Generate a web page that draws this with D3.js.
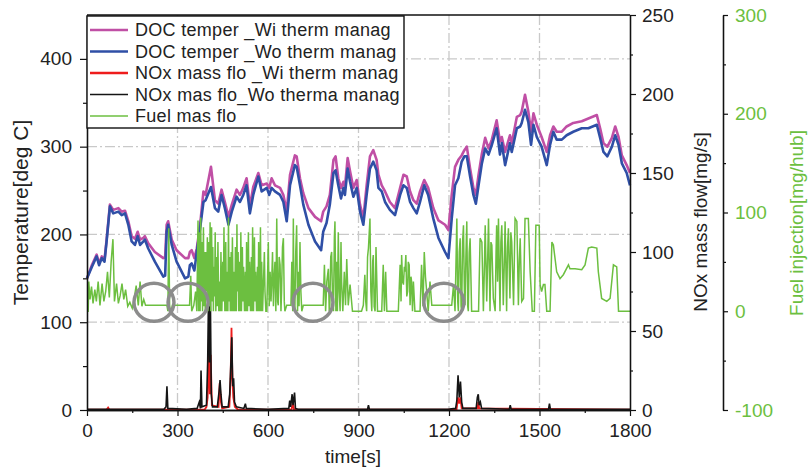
<!DOCTYPE html>
<html><head><meta charset="utf-8">
<script src="https://cdn.jsdelivr.net/npm/d3@7"></script>
<style>
body{margin:0;background:#fff}
svg{display:block}
text{font-family:"Liberation Sans",Arial,Helvetica,sans-serif}
</style>
</head><body>
<svg id="chart" width="808" height="468"></svg>
<script>
// ---------------- DATA ----------------
const seriesNames = ["DOC temper _Wi therm manag","DOC temper _Wo therm manag","NOx mass flo _Wi therm manag","NOx mas flo_Wo therma manag","Fuel mas flo"];
const timeTicks = [0,300,600,900,1200,1500,1800];
const tempTicks = [0,100,200,300,400];
const noxTicks = [0,50,100,150,200,250];
const fuelTicks = [-100,0,100,200,300];

const tempTime = [0,16,32,40,49,58,65,76,87,104,115,126,137,148,159,168,176,187,192,203,225,253,259,264,269,281,297,325,336,341,347,356,364,375,386,393,411,424,435,446,457,469,480,496,507,518,529,540,551,568,579,596,604,612,623,640,651,662,673,689,695,706,717,734,756,776,783,794,805,817,824,833,842,850,855,864,872,883,894,905,916,927,938,949,960,966,977,988,1004,1021,1038,1049,1060,1071,1082,1093,1104,1118,1131,1148,1165,1187,1198,1209,1220,1231,1242,1251,1259,1270,1281,1289,1298,1309,1320,1331,1342,1358,1369,1375,1386,1402,1408,1425,1436,1441,1452,1463,1472,1480,1491,1507,1524,1535,1546,1557,1574,1590,1612,1640,1662,1690,1701,1712,1725,1740,1751,1762,1773,1789,1800];
const tempWo = [150,163,175,165,173,169,192,232,224,226,222,224,211,192,188,198,188,192,194,184,169,152,153,203,211,188,169,150,152,165,167,159,180,207,237,239,254,230,226,245,230,211,226,243,237,245,256,224,245,266,249,253,245,253,249,245,237,215,256,279,277,256,234,211,192,182,203,213,234,270,273,256,241,253,245,275,260,243,253,226,211,245,275,283,273,253,249,237,228,222,245,256,253,237,230,224,237,256,245,218,196,180,173,218,256,264,283,289,289,266,245,235,256,281,298,291,302,321,291,304,279,304,294,321,323,327,342,328,302,325,311,300,279,302,317,308,308,313,317,321,321,325,310,294,289,300,313,302,281,270,256];
const tempWi = [150,165,177,167,175,171,194,234,228,230,226,227,215,198,195,203,194,196,198,190,180,173,174,211,215,194,182,173,173,180,182,173,184,211,249,245,277,239,235,251,237,220,234,251,245,253,264,232,254,270,256,258,253,264,256,253,245,226,268,290,289,264,247,230,220,215,226,232,245,285,289,264,253,260,254,287,272,253,262,234,218,256,289,296,285,268,256,249,237,230,253,268,266,249,239,235,249,262,253,230,216,211,205,245,277,285,290,296,300,275,253,245,268,292,310,298,308,330,306,311,294,313,304,334,336,340,359,340,317,338,325,311,294,313,323,317,317,323,327,329,332,336,321,304,300,310,323,311,290,279,270];

const noxWoTime = [0,60,255,262,265,268,330,365,372,376,378,381,396,400,403,406,409,412,416,432,438,441,444,448,468,473,477,480,483,486,489,495,520,525,528,600,669,672,675,680,683,688,691,700,930,933,936,1195,1222,1226,1230,1234,1238,1242,1246,1290,1294,1297,1300,1304,1308,1400,1403,1406,1530,1533,1536,1800];
const noxWo = [0.5,0.5,0.5,2,15,1,0.5,1,5,1,25,2,3,30,74,30,70,10,2,2,12,19,10,2,2,10,30,46,15,20,5,2,1,4,1,0.5,1,6,2,10,3,11,1,0.5,0.5,3,0.5,0.5,1,6,22,8,18,5,1,1,8,10,3,5,1,0.5,3,0.5,0.5,4,0.5,0.5];
const noxWiTime = [0,65,70,74,390,396,400,404,407,410,414,436,440,444,448,472,476,479,482,485,490,500,678,683,686,1225,1230,1234,1238,1242,1295,1297,1300,1800];
const noxWi = [0.3,0.3,1.5,0.3,0.3,2,8,45,10,35,3,2,17,5,1,2,20,52,20,8,2,0.3,0.3,5,0.3,0.3,8,4,8,1,1,5,1,0.3];

const fuelTime = [
0,4,6,10,15,20,26,31,37,43,50,56,62,68,74,80,86,91,98,104,110,116,122,128,135,142,150,156,163,170,176,182,188,194,265,268,271,274,279,283,340,344,347,354,360,364,
368,370,373,375,377,379,381,383,386,388,390,392,395,397,399,401,404,406,408,410,413,415,417,419,421,423,425,427,430,432,434,437,440,442,444,447,450,452,454,457,460,462,464,467,469,471,473,475,478,480,482,485,488,490,492,495,497,499,501,503,506,508,510,512,515,517,519,522,525,527,529,532,535,537,539,542,545,547,549,552,555,557,559,562,565,567,569,572,575,577,579,582,585,588,590,593,596,
601,604,607,610,612,615,618,620,623,626,
629,632,634,637,640,643,645,648,651,654,
656,662,676,679,682,684,686,689,692,695,
698,700,703,706,709,712,717,723,783,787,
791,795,800,803,805,808,811,814,817,820,
822,825,828,830,833,836,839,842,844,848,
853,857,861,866,872,880,910,916,921,924,
927,930,933,938,941,944,947,949,952,955,
958,960,963,966,977,982,986,990,994,1032,
1038,1041,1043,1046,1049,1052,1054,1057,1060,1063,
1065,1068,1071,1074,1076,1079,1082,1087,1104,1109,
1114,1118,1122,1126,1131,1137,1143,
1209,1215,1220,1226,1229,1231,1234,1237,1240,1242,1245,1248,1251,1253,1256,1259,1262,1264,1267,1270,1275,1298,1303,1309,1314,1317,1320,1325,1328,1331,1336,1339,1342,1347,1353,1356,1358,1361,1364,1369,1372,1375,1380,1383,1386,1391,1394,1397,1402,1405,1408,1414,1417,1419,1425,1430,1433,1436,1441,1447,1452,1463,1469,1476,1483,1488,1499,1502,1507,1513,1518,1524,1535,1541,1546,1557,1568,1579,1596,1601,1618,1640,1651,1662,1673,1690,1695,1706,1723,1734,1745,1756,1762,1800];
const fuelVal = [
0,0,30,12,25,8,22,10,30,6,28,10,20,40,14,50,73,10,28,8,16,28,12,22,5,9,3,12,26,6,30,5,12,6,6,0,84,0,0,6,6,36,0,6,20,0,
92,0,80,0,95,10,70,0,85,5,60,0,60,20,75,0,70,5,90,0,85,10,65,0,45,15,80,0,55,5,70,0,30,0,60,0,50,10,85,0,70,0,40,0,95,10,55,0,60,0,75,0,40,0,65,0,88,20,60,0,50,0,80,0,65,10,45,0,40,0,70,0,80,5,50,0,55,0,85,0,75,10,40,0,45,0,70,0,85,0,50,0,30,60,20,0,0,
70,5,40,10,27,60,5,30,50,0,
94,10,6,55,47,0,20,65,74,10,
0,6,6,50,0,94,10,0,60,87,
0,40,5,70,20,0,6,6,6,47,
0,30,43,0,6,55,60,10,0,75,
91,0,50,0,80,20,0,70,30,0,
40,6,53,6,27,0,0,6,37,10,
0,55,64,94,20,0,50,57,5,0,
65,40,0,0,0,47,0,40,0,0,
47,10,57,30,27,45,40,57,15,20,
50,47,6,35,30,0,30,0,0,47,
5,60,35,20,0,30,6,
6,27,0,94,10,0,60,74,5,0,70,87,20,6,55,91,5,0,60,74,0,0,74,70,0,40,87,10,50,94,0,70,67,13,0,60,87,30,94,0,70,87,6,45,91,0,65,84,13,80,70,6,60,94,91,6,50,74,10,13,94,94,40,0,0,87,87,27,20,27,27,0,0,70,67,40,33,37,47,43,43,42,47,64,65,64,40,13,10,13,47,45,0,0];

const circleTime = [222,335,749,1183];
const circleFuel = [9,9,9,9];

// ---------------- CHART ----------------
const svg = d3.select("#chart");
const L = 87, R = 630, T = 15, B = 410;
const x = d3.scaleLinear().domain([0,1800]).range([L,R]);
const yT = d3.scaleLinear().domain([0,450]).range([B,T]);
const yN = d3.scaleLinear().domain([0,250]).range([B,T]);
const yF = d3.scaleLinear().domain([-100,300]).range([B,T]);

const colWi = "#c04fa5", colWo = "#2f4fa6", colNWi = "#ee1c1c", colNWo = "#151515", colF = "#6cbf40";
const textCol = "#222";

// grid
const grid = svg.append("g").attr("stroke","#c9c9c9").attr("stroke-width",1.3).attr("stroke-dasharray","10,3,2,3");
grid.selectAll("line.v").data(timeTicks.filter(d=>d>0&&d<1800)).join("line")
  .attr("x1",d=>x(d)).attr("x2",d=>x(d)).attr("y1",T).attr("y2",B);
grid.selectAll("line.h").data(tempTicks.filter(d=>d>0)).join("line")
  .attr("x1",L).attr("x2",R).attr("y1",d=>yT(d)).attr("y2",d=>yT(d));

// lines
function path(times, vals, ys){
  return d3.line().x((d,i)=>x(times[i])).y((d,i)=>ys(vals[i]))(vals);
}
svg.append("path").attr("d",path(tempTime,tempWi,yT)).attr("fill","none").attr("stroke",colWi).attr("stroke-width",2.6).attr("stroke-linejoin","round");
svg.append("path").attr("d",path(tempTime,tempWo,yT)).attr("fill","none").attr("stroke",colWo).attr("stroke-width",2.6).attr("stroke-linejoin","round");
svg.append("path").attr("d",path(noxWiTime,noxWi,yN)).attr("fill","none").attr("stroke",colNWi).attr("stroke-width",1.8);
svg.append("path").attr("d",path(noxWoTime,noxWo,yN)).attr("fill","none").attr("stroke",colNWo).attr("stroke-width",1.6);
svg.append("path").attr("d",path(fuelTime,fuelVal,yF)).attr("fill","none").attr("stroke",colF).attr("stroke-width",1.5);

// circles
svg.append("g").selectAll("ellipse").data(circleTime).join("ellipse")
  .attr("cx",d=>x(d)).attr("cy",(d,i)=>yF(circleFuel[i])).attr("rx",20).attr("ry",19)
  .attr("fill","none").attr("stroke","#8c8c8c").attr("stroke-width",3.5);

// axes
function styleAxis(g, size){
  g.selectAll("path.domain").attr("stroke","#111").attr("stroke-width",1.3);
  g.selectAll(".tick line").attr("stroke","#111").attr("stroke-width",1.2);
  g.selectAll("text").attr("font-size",size).attr("fill",textCol).attr("font-family",'"Liberation Sans",Arial,sans-serif');
}
const fmt = d=>String(d);
let g = svg.append("g").attr("transform",`translate(0,${B})`)
  .call(d3.axisBottom(x).tickValues(timeTicks).tickSize(6).tickSizeOuter(0).tickPadding(8).tickFormat(fmt));
styleAxis(g,19);
g = svg.append("g").attr("transform",`translate(0,${B})`)
  .call(d3.axisBottom(x).tickValues([150,450,750,1050,1350,1650]).tickSize(3).tickSizeOuter(0).tickFormat(""));
styleAxis(g,19);
g = svg.append("g").attr("transform",`translate(${L},0)`)
  .call(d3.axisLeft(yT).tickValues(tempTicks).tickSize(7).tickSizeOuter(0).tickPadding(8).tickFormat(fmt));
styleAxis(g,19);
g = svg.append("g").attr("transform",`translate(${L},0)`)
  .call(d3.axisLeft(yT).tickValues([50,150,250,350]).tickSize(4).tickSizeOuter(0).tickFormat(""));
styleAxis(g,19);
g = svg.append("g").attr("transform",`translate(${R},0)`)
  .call(d3.axisRight(yN).tickValues(noxTicks).tickSize(6).tickSizeOuter(0).tickPadding(6).tickFormat(fmt));
styleAxis(g,19);
g = svg.append("g").attr("transform",`translate(${R},0)`)
  .call(d3.axisRight(yN).tickValues([25,75,125,175,225]).tickSize(3).tickSizeOuter(0).tickFormat(""));
styleAxis(g,19);
const FX = 723;
g = svg.append("g").attr("transform",`translate(${FX},0)`)
  .call(d3.axisRight(yF).tickValues(fuelTicks).tickSize(5).tickSizeOuter(0).tickPadding(7).tickFormat(fmt));
styleAxis(g,19);
g.selectAll("text").attr("fill",colF);
g = svg.append("g").attr("transform",`translate(${FX},0)`)
  .call(d3.axisRight(yF).tickValues([-50,50,150,250]).tickSize(3).tickSizeOuter(0).tickFormat(""));
styleAxis(g,19);
svg.append("line").attr("x1",L).attr("x2",R).attr("y1",T).attr("y2",T).attr("stroke","#111").attr("stroke-width",1.3);

// axis titles
svg.append("text").attr("x",353).attr("y",463).attr("text-anchor","middle").attr("font-size",19).attr("fill",textCol).text("time[s]");
svg.append("text").attr("transform",`translate(28,${(T+B)/2}) rotate(-90)`).attr("text-anchor","middle").attr("font-size",21).attr("fill",textCol).text("Temperature[deg C]");
svg.append("text").attr("transform",`translate(707,222) rotate(-90)`).attr("text-anchor","middle").attr("font-size",19).attr("fill",textCol).text("NOx mass flow[mg/s]");
svg.append("text").attr("transform",`translate(803,223) rotate(-90)`).attr("text-anchor","middle").attr("font-size",19).attr("fill",colF).text("Fuel injection[mg/hub]");

// legend
const lg = svg.append("g");
lg.append("rect").attr("x",L).attr("y",16).attr("width",317).attr("height",112).attr("fill","#fff").attr("stroke","#111").attr("stroke-width",1.4);
const legCols = [colWi,colWo,colNWi,colNWo,colF];
const legW = [2.6,2.6,2.4,1.6,1.5];
const rows = lg.selectAll("g.row").data(seriesNames).join("g").attr("transform",(d,i)=>`translate(0,${30+i*21.5})`);
rows.append("line").attr("x1",90).attr("x2",128).attr("y1",0).attr("y2",0).attr("stroke",(d,i)=>legCols[i]).attr("stroke-width",(d,i)=>legW[i]);
rows.append("text").attr("x",135).attr("y",0).attr("dy","0.35em").attr("font-size",18).attr("letter-spacing",0.3).attr("fill",textCol).text(d=>d);
</script>
</body></html>
